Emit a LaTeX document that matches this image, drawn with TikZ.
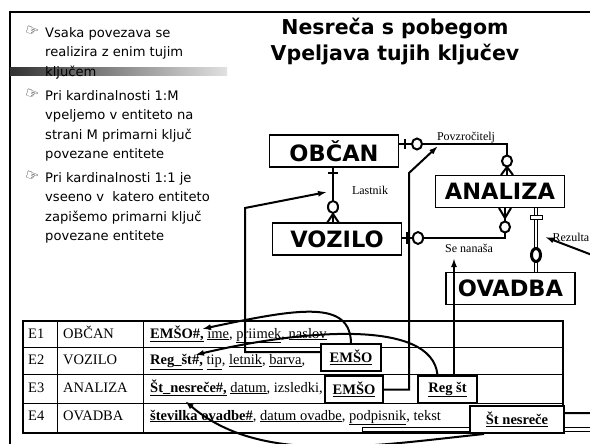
\documentclass[tikz,border=0pt]{standalone}
\usepackage{fontspec}
\setmainfont{Liberation Serif}
\newfontfamily\slidefont{DejaVu Sans}
\usetikzlibrary{arrows.meta}

\begin{document}
\begin{tikzpicture}[x=1pt, y=-1pt,
    entity/.style={draw, line width=1.2pt, minimum width=129pt, minimum height=32pt, inner sep=0pt, font=\slidefont\fontsize{22.5}{24}\selectfont\bfseries},
    fkey/.style={draw, line width=2pt, fill=white, minimum height=27pt, inner sep=0pt, font=\fontsize{14.5}{16}\selectfont\bfseries},
    cell/.style={anchor=base west, inner sep=0pt, font=\fontsize{14.5}{16}\selectfont},
    handmark/.style={inner sep=0pt, rotate=-20, font=\slidefont\fontsize{15}{16}\selectfont},
    bullettext/.style={anchor=north west, align=left, inner sep=0pt, font=\slidefont\fontsize{13.1}{19.5}\selectfont},
    role/.style={inner sep=0pt, font=\fontsize{12}{13}\selectfont},
    rel/.style={line width=2pt},
    fklink/.style={line width=2pt, -{Latex[length=9pt,width=6pt]}}]
    \useasboundingbox (0,0) rectangle (590,444);
    \clip (0,0) rectangle (590,444);
    % slide frame and title bar
    \draw[line width=1.5pt] (10,444) -- (10,12) -- (590,12);
    \shade[left color=black!80, right color=black!12] (10,68) rectangle (227,76);
    \node[anchor=north, align=center, inner sep=0pt, font=\slidefont\fontsize{20.5}{26}\selectfont\bfseries] (title) at (395,16) {\strut Nesreča s pobegom\\Vpeljava tujih ključev};
    % bullets
    \node[handmark] (handA) at (32,32) {☞};
    \node[bullettext] (pointA) at (45,23.4) {\strut Vsaka povezava se\\realizira z enim tujim\\ključem};
    \node[handmark] (handB) at (32,95) {☞};
    \node[bullettext] (pointB) at (45,86.4) {\strut Pri kardinalnosti 1:M\\vpeljemo v entiteto na\\strani M primarni ključ\\povezane entitete};
    \node[handmark] (handC) at (32,177) {☞};
    \node[bullettext] (pointC) at (45,168.4) {\strut Pri kardinalnosti 1:1 je\\vseeno v\ \ katero entiteto\\zapišemo primarni ključ\\povezane entitete};
    % entities
    \node[entity] (obcan) at (334,151) {OBČAN};
    \node[entity] (vozilo) at (337,239) {VOZILO};
    \node[entity] (analiza) at (500,191.5) {ANALIZA};
    \node[entity] (ovadba) at (510.5,288.5) {OVADBA};
    % Povzrocitelj
    \draw[rel] (obcan.east |- 0,144) -| (analiza.north -| 507,0);
    \draw[rel] (405,139) -- (405,149);
    \draw[rel, fill=white] (417,144) ellipse [x radius=5pt, y radius=5.5pt];
    \draw[rel] (501,175) -- (507,167) -- (513,175);
    \draw[rel, fill=white] (507,161) ellipse [x radius=5pt, y radius=5.5pt];
    \node[role, anchor=base] (povzLabel) at (466,141) {Povzročitelj};
    % Lastnik
    \draw[rel] (obcan.south -| 333,0) -- (vozilo.north -| 333,0);
    \draw[rel] (328,173) -- (338,173);
    \draw[rel] (327,223) -- (333,214) -- (339,223);
    \draw[rel, fill=white] (333,207) ellipse [x radius=5pt, y radius=6pt];
    \node[role, anchor=base] (lastLabel) at (370,194) {Lastnik};
    % Se nanasa
    \draw[rel] (vozilo.east |- 0,238) -| (analiza.south -| 505,0);
    \draw[rel] (407,232) -- (407,244);
    \draw[rel, fill=white] (418,238) ellipse [x radius=5pt, y radius=6pt];
    \draw[rel] (499,208) -- (505,218) -- (511,208);
    \draw[rel, fill=white] (505,227) ellipse [x radius=5pt, y radius=5.5pt];
    \node[role, anchor=base] (senLabel) at (469,252) {Se nanaša};
    % Rezultat
    \draw[line width=1pt, double, double distance=2pt] (analiza.south -| 536,0) -- (ovadba.north -| 536,0);
    \draw[line width=0.8pt, fill=white] (530,215) rectangle (542,219);
    \draw[line width=3pt, fill=white] (536,255) ellipse [x radius=4.5pt, y radius=6.5pt];
    \node[role, anchor=base east] (rezLabel) at (589.5,241.5) {Rezulta};
    % table
    \draw[line width=1.2pt] (23,321) rectangle (563,433);
    \draw[line width=0.7pt] (23,347) -- (563,347) (23,374) -- (563,374) (23,403) -- (563,403)
      (57,321) -- (57,433) (143,321) -- (143,433);
    \node[cell] (idA) at (28,338) {E1};
    \node[cell] (nameA) at (63,338) {OBČAN};
    \node[cell] (attrA) at (150,338) {\textbf{\underline{EMŠO\#,}} \underline{ime}, \underline{priimek}, \underline{naslov}};
    \node[cell] (idB) at (28,364.5) {E2};
    \node[cell] (nameB) at (63,364.5) {VOZILO};
    \node[cell] (attrB) at (150,364.5) {\textbf{\underline{Reg\_št\#,}} \underline{tip}, \underline{letnik}, \underline{barva},};
    \node[cell] (idC) at (28,392) {E3};
    \node[cell] (nameC) at (63,392) {ANALIZA};
    \node[cell] (attrC) at (150,392) {\textbf{\underline{Št\_nesreče\#,}} \underline{datum}, izsledki,};
    \node[cell] (idD) at (28,420) {E4};
    \node[cell] (nameD) at (63,420) {OVADBA};
    \node[cell] (attrD) at (150,420) {\textbf{\underline{številka ovadbe\#}}, \underline{datum ovadbe}, \underline{podpisnik}, tekst};
    \draw[line width=0.7pt] (362,427) rectangle (600,431);
    % foreign keys
    \node[fkey, minimum width=60pt] (fkA) at (351,357.5) {\underline{EMŠO}};
    \node[fkey, minimum width=58pt] (fkB) at (354,389.5) {\underline{EMŠO}};
    \node[fkey, minimum width=59pt] (fkC) at (447.5,389.5) {\underline{Reg št}};
    \node[fkey, minimum width=94pt] (fkD) at (517,419.5) {\underline{Št nesreče}};
    \coordinate (lastnikTip) at (327,192);
    \coordinate (povzTip) at (438,146);
    \coordinate (senTip) at (454,258);
    \coordinate (rezTip) at (545,237);
    \coordinate (emsoKey) at (202,329);
    \coordinate (regKey) at (195,355);
    \coordinate (stKey) at (185,401);
    \draw[fklink] (fkA.west |- 0,352) -| (245,208) -- (lastnikTip);
    \draw[fklink] (fkB.east) -| (409,173) -- (povzTip);
    \draw[fklink] (fkC.north -| senTip) -- (senTip);
    \draw[fklink] (fkD.east |- 0,413) -- (600,413) -- (600,258) -- (rezTip);
    \draw[fklink] (fkA.north) .. controls (350,300) and (300,308) .. (emsoKey);
    \draw[fklink] ([xshift=-10pt]fkC.north) .. controls (432,318) and (300,330) .. (regKey);
    \draw[fklink] ([xshift=15pt]fkD.south west) .. controls (370,446) and (260,465) .. (stKey);
\end{tikzpicture}
\end{document}
